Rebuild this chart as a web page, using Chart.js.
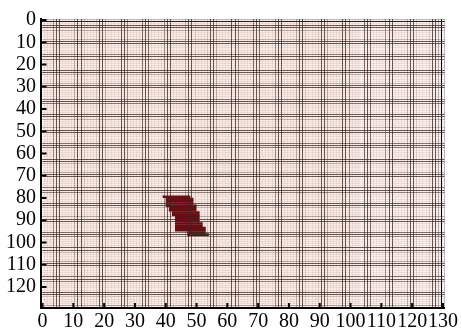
<!DOCTYPE html>
<html>
<head>
<meta charset="utf-8">
<script src="https://cdn.jsdelivr.net/npm/chart.js@4/dist/chart.umd.min.js"></script>
<style>
html,body{margin:0;padding:0;background:#ffffff;}
canvas{display:block;}
</style>
</head>
<body>
<canvas id="c" width="462" height="330"></canvas>
<script>
// ---- data ----
const nCols = 130;
const nRows = 129;
const splitCol = 104;
const xTickLabels = [0,10,20,30,40,50,60,70,80,90,100,110,120,130];
const yTickLabels = [0,10,20,30,40,50,60,70,80,90,100,110,120];
const rowIndex = Array.from({length: nRows}, (_, i) => i);
const blobRows  = [79,80,81,82,83,84,85,86,87,88,89,90,91,92,93,94,95,96];
const blobStart = [39,40,40,40,40,41,41,42,42,43,43,43,43,43,43,43,47,47];
const blobEnd   = [48,49,49,49,50,50,50,51,51,51,51,51,52,52,53,53,53,54];

const bgLeft = '#fcebe5';
const bgRight = '#fdf0ec';
const blobColor = '#6b0d12';

function gridAlpha(i, period, center) {
  let t = (((i - center) / period) % 1 + 1) % 1;
  t = Math.min(t, 1 - t);
  const w = Math.max(0, Math.min(1, 1 - (t - 0.12) / 0.12));
  return 0.08 + 0.68 * w;
}
function tickVal(c) {
  return (c && c.tick) ? c.tick.value : null;
}

const barCommon = {
  type: 'bar',
  indexAxis: 'y',
  grouped: false,
  barPercentage: 1.15,
  categoryPercentage: 1,
  borderWidth: 0,
  xAxisID: 'x',
  yAxisID: 'y'
};

const font = {family: "'Liberation Serif', 'Times New Roman', serif", size: 20, lineHeight: 1.0};

new Chart(document.getElementById('c'), {
  type: 'bar',
  data: {
    datasets: [
      Object.assign({}, barCommon, {
        label: 'left', backgroundColor: bgLeft, order: 3,
        data: rowIndex.map(r => ({y: r + 0.5, x: [0, splitCol]}))
      }),
      Object.assign({}, barCommon, {
        label: 'right', backgroundColor: bgRight, order: 3,
        data: rowIndex.map(r => ({y: r + 0.5, x: [splitCol, nCols]}))
      }),
      Object.assign({}, barCommon, {
        label: 'blob', backgroundColor: blobColor, order: 1,
        data: blobRows.map((r, i) => ({y: r + 0.5, x: [blobStart[i], blobEnd[i]]}))
      }),
      {
        type: 'scatter', label: 'yticks', xAxisID: 'x', yAxisID: 'y',
        data: yTickLabels.map(v => ({x: 0, y: v})),
        pointStyle: 'line', radius: 4, borderWidth: 2, borderColor: '#000',
        backgroundColor: '#000', clip: 0, order: -1
      },
      {
        type: 'scatter', label: 'xticks', xAxisID: 'x', yAxisID: 'y',
        data: xTickLabels.map(v => ({x: v, y: nRows})),
        pointStyle: 'line', rotation: 90, radius: 4, borderWidth: 2, borderColor: '#000',
        backgroundColor: '#000', clip: 0, order: -1
      }
    ]
  },
  options: {
    responsive: false,
    animation: false,
    devicePixelRatio: 1,
    layout: {padding: {top: 19, right: 10, left: 1, bottom: -6}},
    plugins: {legend: {display: false}, tooltip: {enabled: false}},
    scales: {
      x: {
        type: 'linear', position: 'bottom', min: 0, max: nCols,
        border: {display: true, color: '#000', width: 2, z: 3},
        grid: {
          z: 1, drawTicks: false, lineWidth: 1,
          color: (c) => {
            const v = tickVal(c);
            if (v === null) return 'rgba(50,32,32,0.3)';
            if (v === nCols) return '#000';
            if (v === splitCol) return 'rgba(255,255,255,1)';
            return 'rgba(55,38,38,' + gridAlpha(v, 7.2, 5.2).toFixed(3) + ')';
          }
        },
        ticks: {
          stepSize: 1, autoSkip: false, maxRotation: 0, maxTicksLimit: 500,
          padding: 4, color: '#000', font: font,
          callback: (v) => xTickLabels.includes(v) ? String(v) : ''
        }
      },
      y: {
        type: 'linear', position: 'left', min: 0, max: nRows, reverse: true,
        border: {display: true, color: '#000', width: 2, z: 3},
        grid: {
          z: 1, drawTicks: false, lineWidth: 1,
          color: (c) => {
            const v = tickVal(c);
            if (v === null) return 'rgba(50,32,32,0.3)';
            if (v === 0) return '#222';
            return 'rgba(55,38,38,' + gridAlpha(v, 6.66, 2.7).toFixed(3) + ')';
          }
        },
        ticks: {
          stepSize: 1, autoSkip: false, maxTicksLimit: 500,
          padding: 5, color: '#000', font: font,
          callback: (v) => yTickLabels.includes(v) ? String(v) : ''
        }
      }
    }
  }
});
</script>
</body>
</html>
